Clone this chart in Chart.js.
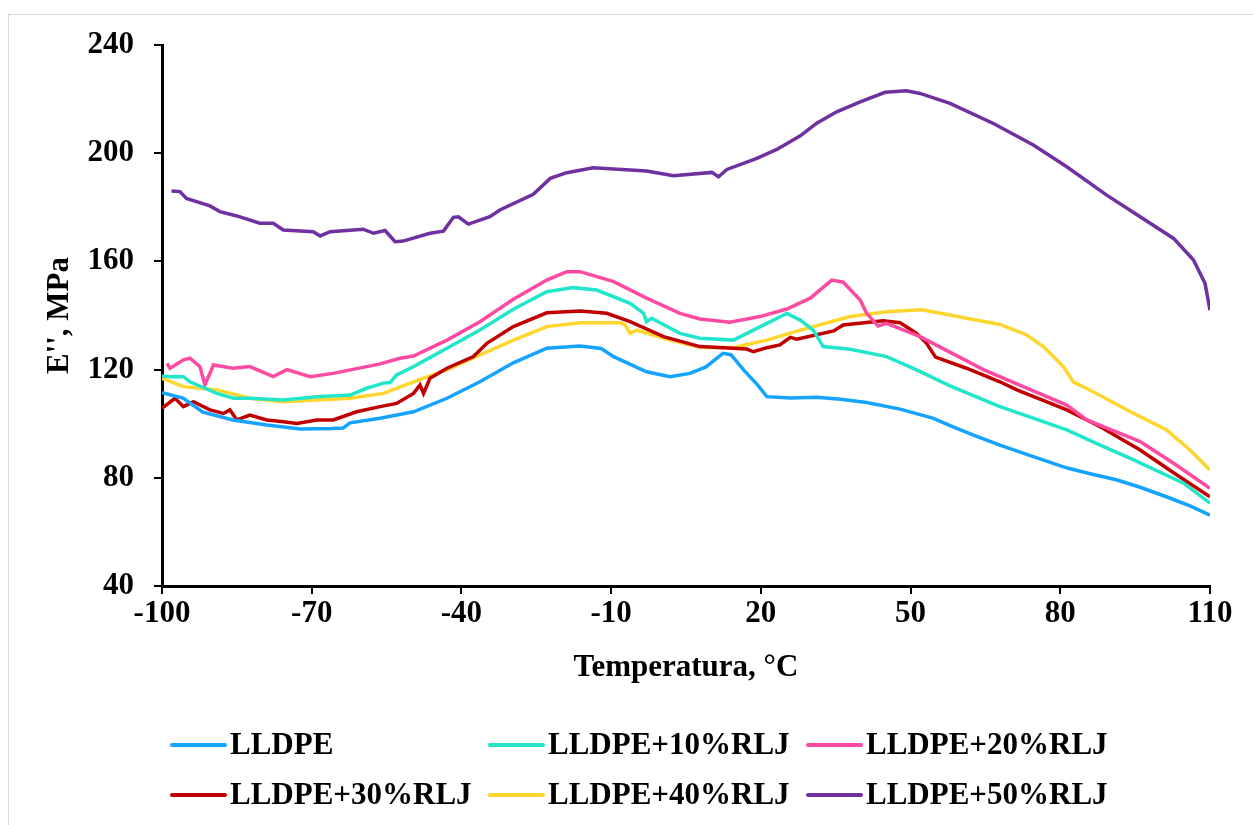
<!DOCTYPE html>
<html>
<head>
<meta charset="utf-8">
<script src="https://cdn.jsdelivr.net/npm/chart.js@4.4.1/dist/chart.umd.min.js"></script>
<style>
  html, body { margin: 0; padding: 0; background: #fff; overflow: hidden; }
  #frame { position: absolute; left: 8px; top: 14px; width: 1300px; height: 900px; border: 1px solid #d9d9d9; }
  #chart { position: absolute; left: 0; top: 0; }
</style>
</head>
<body>
<div id="frame"></div>
<canvas id="chart" width="1253" height="825"></canvas>
<script>
// Serie isimleri
const seriesNames = ['LLDPE', 'LLDPE+10%RLJ', 'LLDPE+20%RLJ', 'LLDPE+30%RLJ', 'LLDPE+40%RLJ', 'LLDPE+50%RLJ'];

// LLDPE
const tLLDPE = [-100, -95.8, -91.8, -85.8, -79, -72.3, -66, -63.7, -62.3, -56.3, -49.6, -42.9, -36.3, -29.6, -22.9, -16.2, -12, -9.5, -2.9, 1.8, 5.8, 9, 12.4, 14, 16.5, 19.5, 21.2, 26, 31.2, 36, 41.2, 47.9, 54.6, 58.5, 63, 67.9, 74, 81.4, 86, 91.4, 96, 101.4, 106, 110];
const eLLDPE = [111.5, 109.5, 104.3, 101.4, 99.5, 98.0, 98.2, 98.4, 100.3, 102.0, 104.4, 109.4, 115.5, 122.5, 127.9, 128.7, 127.8, 124.8, 119.2, 117.4, 118.6, 121, 126, 125.5, 120, 114, 110, 109.5, 109.8, 109, 107.8, 105.4, 102.0, 98.8, 95.5, 92.1, 88.2, 83.6, 81.5, 79.2, 76.5, 72.9, 69.6, 66.2];

// LLDPE+10%RLJ
const t10 = [-100, -98.4, -95.7, -94.4, -89, -85.7, -82.4, -75.7, -69, -62.3, -59, -55.6, -54.3, -53, -49.6, -42.9, -36.3, -29.6, -22.9, -17.6, -12.9, -6.2, -3.5, -2.9, -1.9, 3.8, 7.8, 14.5, 21.2, 25.2, 27.9, 30.5, 32.5, 37.9, 45.2, 51.2, 57.9, 67.9, 74, 81.3, 88, 94.7, 104.7, 110];
const e10 = [117.6, 117.4, 117.4, 115.5, 111.2, 109.4, 109.4, 108.8, 110.0, 110.6, 113.1, 115.0, 115.2, 118, 121.1, 127.9, 134.6, 142.3, 148.8, 150.3, 149.4, 144.5, 140.8, 137.7, 139.0, 133.4, 131.6, 130.9, 137.1, 140.8, 138.3, 134.6, 128.5, 127.5, 124.8, 119.9, 114.0, 106.3, 102.4, 97.7, 92.1, 86.6, 78.0, 70.6];

// LLDPE+20%RLJ
const t20 = [-99, -98.4, -95.7, -94.4, -92.4, -91.4, -89.7, -85.7, -82.4, -77.7, -75, -70.3, -65.7, -59, -56.3, -52.3, -49.6, -42.9, -36.3, -29.6, -22.9, -18.9, -16.2, -9.5, -2.9, 3.8, 7.8, 13.8, 19.8, 25.2, 29.9, 34.2, 36.5, 39.9, 41.2, 43.5, 45.2, 51.9, 57, 64.6, 72, 81.3, 85.3, 90, 96, 103, 110];
const e20 = [122.3, 120.5, 123.6, 124.2, 121.1, 114.3, 121.7, 120.5, 121.1, 117.4, 120, 117.4, 118.6, 121.1, 122.1, 124.2, 125.0, 130.9, 137.7, 146.0, 153.1, 156.2, 156.2, 152.5, 146.4, 140.8, 138.7, 137.5, 139.6, 142.4, 146.4, 153.1, 152.3, 145.7, 140.8, 136.1, 137.1, 132.2, 127.3, 120, 114.2, 106.9, 101.4, 97.9, 93.4, 85, 76.1];

// LLDPE+30%RLJ
const t30 = [-100, -97.4, -95.7, -93.7, -90.4, -87.7, -86.4, -85, -82.4, -79, -75.7, -73, -69, -65.7, -61, -56.3, -53, -49.6, -48.3, -47.6, -46.3, -42.9, -37.6, -34.9, -29.6, -22.9, -16.2, -10.9, -6.2, 0.5, 7.8, 17.2, 18.5, 21.2, 23.8, 25.9, 27.2, 34.6, 36.5, 44.5, 47.9, 51.2, 53.2, 55, 61.2, 67.9, 71.3, 81.3, 88, 96, 103, 110];
const e30 = [105.7, 109.4, 106.3, 108.1, 105.1, 103.8, 105.1, 101.4, 103.2, 101.4, 100.7, 100.1, 101.4, 101.4, 104.4, 106.3, 107.5, 111.2, 114.3, 111.2, 116.8, 120.5, 124.8, 129.7, 135.9, 141.0, 141.7, 140.8, 137.7, 132.2, 128.5, 127.6, 126.6, 128.1, 129.1, 131.9, 131.2, 134.3, 136.5, 138.1, 137.3, 133.4, 129.7, 124.6, 120.5, 115.5, 112.5, 105.1, 98.9, 90.3, 81.5, 73.0];

// LLDPE+40%RLJ
const t40 = [-100, -95.7, -89, -82.4, -75.7, -69, -62.3, -55.6, -49.6, -42.9, -36.3, -29.6, -22.9, -16.2, -8.2, -7.2, -6.2, -4.9, 0.5, 7.8, 14.5, 21.2, 27.9, 37.9, 45.2, 52.2, 57.9, 61.2, 67.9, 73.3, 76.6, 80.6, 82.6, 86.6, 94.7, 101.3, 106, 110];
const e40 = [116.8, 113.7, 112.5, 109.4, 108.1, 108.8, 109.4, 111.2, 115.5, 119.9, 125.4, 130.9, 135.9, 137.3, 137.3, 136.5, 133.4, 134.6, 131.6, 128.2, 128.2, 130.9, 134.6, 139.6, 141.4, 142.1, 140.2, 139.0, 136.7, 132.8, 128.5, 121.1, 115.5, 111.8, 103.8, 97.7, 90.3, 82.9];

// LLDPE+50%RLJ
const t50 = [-98.1, -96.4, -95.1, -90.4, -88.4, -85, -80.4, -77.7, -75.7, -69.7, -68.3, -66.3, -59.7, -57.6, -55.3, -53.3, -51.7, -46.3, -43.6, -41.6, -40.6, -38.6, -34.3, -32.3, -25.6, -22.2, -18.9, -13.6, -2.9, 2.5, 10.2, 11.5, 13.2, 19.2, 23.2, 27.9, 31.2, 35.2, 39.9, 44.9, 49.2, 51.9, 57.9, 66.6, 74.6, 81.3, 89.3, 96, 102.7, 106.7, 109, 110];
const e50 = [186.0, 185.8, 183.3, 180.5, 178.4, 176.8, 174.1, 174.1, 171.6, 171.0, 169.4, 171, 171.9, 170.4, 171.4, 167.3, 167.5, 170.4, 171.2, 176.3, 176.5, 173.8, 176.5, 179, 184.8, 190.7, 192.8, 194.6, 193.4, 191.7, 192.9, 191.3, 194.0, 198.1, 201.4, 206.4, 211.1, 215.3, 219.0, 222.5, 223.1, 222.1, 218.4, 211.0, 203.0, 195.0, 184.5, 176.5, 168.5, 160.5, 151.9, 142.0];

// Eksen tikleri
const xTicks = [-100, -70, -40, -10, 20, 50, 80, 110];
const yTicks = [40, 80, 120, 160, 200, 240];

const colors = ['#14a4ff', '#22e6cc', '#ff4aa2', '#c00000', '#ffd52e', '#7030a0'];
const allT = [tLLDPE, t10, t20, t30, t40, t50];
const allE = [eLLDPE, e10, e20, e30, e40, e50];

const pts = (t, e) => t.map((x, i) => ({ x: x, y: e[i] }));
const font = { family: '"Liberation Serif", "Times New Roman", serif', size: 31, weight: 'bold' };

// Excel tarzı 3 sütunlu lejant
const gridLegend = {
    id: 'gridLegend',
    afterDraw(chart) {
        const ctx = chart.ctx;
        const cols = [172, 490, 808];
        const rows = [745, 795];
        ctx.save();
        ctx.font = 'bold 31px "Liberation Serif", "Times New Roman", serif';
        ctx.textBaseline = 'middle';
        chart.data.datasets.forEach((ds, i) => {
            const x = cols[i % 3], y = rows[Math.floor(i / 3)];
            ctx.strokeStyle = ds.borderColor;
            ctx.lineWidth = 4;
            ctx.lineCap = 'round';
            ctx.beginPath();
            ctx.moveTo(x, y);
            ctx.lineTo(x + 53, y);
            ctx.stroke();
            ctx.fillStyle = '#000';
            ctx.fillText(ds.label, x + 58, y + 1);
        });
        ctx.restore();
    }
};

new Chart(document.getElementById('chart'), {
    type: 'line',
    data: {
        datasets: seriesNames.map((name, i) => ({
            label: name,
            data: pts(allT[i], allE[i]),
            borderColor: colors[i],
            backgroundColor: colors[i],
            borderWidth: 3.5,
            pointRadius: 0,
            tension: 0,
            fill: false
        }))
    },
    options: {
        responsive: false,
        animation: false,
        layout: { padding: { top: 45, right: 43, bottom: 119, left: 0 } },
        plugins: { legend: { display: false }, tooltip: { enabled: false } },
        scales: {
            x: {
                type: 'linear', min: -100, max: 110,
                afterBuildTicks: s => { s.ticks = xTicks.map(v => ({ value: v })); },
                ticks: { color: '#000', font: font, padding: 1, maxRotation: 0 },
                grid: { drawOnChartArea: false, color: '#000', lineWidth: 2, tickLength: 8 },
                border: { color: '#000', width: 3 },
                title: { display: true, text: 'Temperatura, °C', color: '#000', font: font, padding: { top: 0, bottom: 19 } },
                afterFit: s => { s.height = 120; }
            },
            y: {
                type: 'linear', min: 40, max: 240,
                afterBuildTicks: s => { s.ticks = yTicks.map(v => ({ value: v })); },
                ticks: { color: '#000', font: font, padding: 20 },
                grid: { drawOnChartArea: false, color: '#000', lineWidth: 2, tickLength: 8 },
                border: { color: '#000', width: 3 },
                title: { display: true, text: "E'', MPa", color: '#000', font: font, padding: { top: 41, bottom: 0 } },
                afterFit: s => { s.width = 162; }
            }
        }
    },
    plugins: [gridLegend]
});
</script>
</body>
</html>
